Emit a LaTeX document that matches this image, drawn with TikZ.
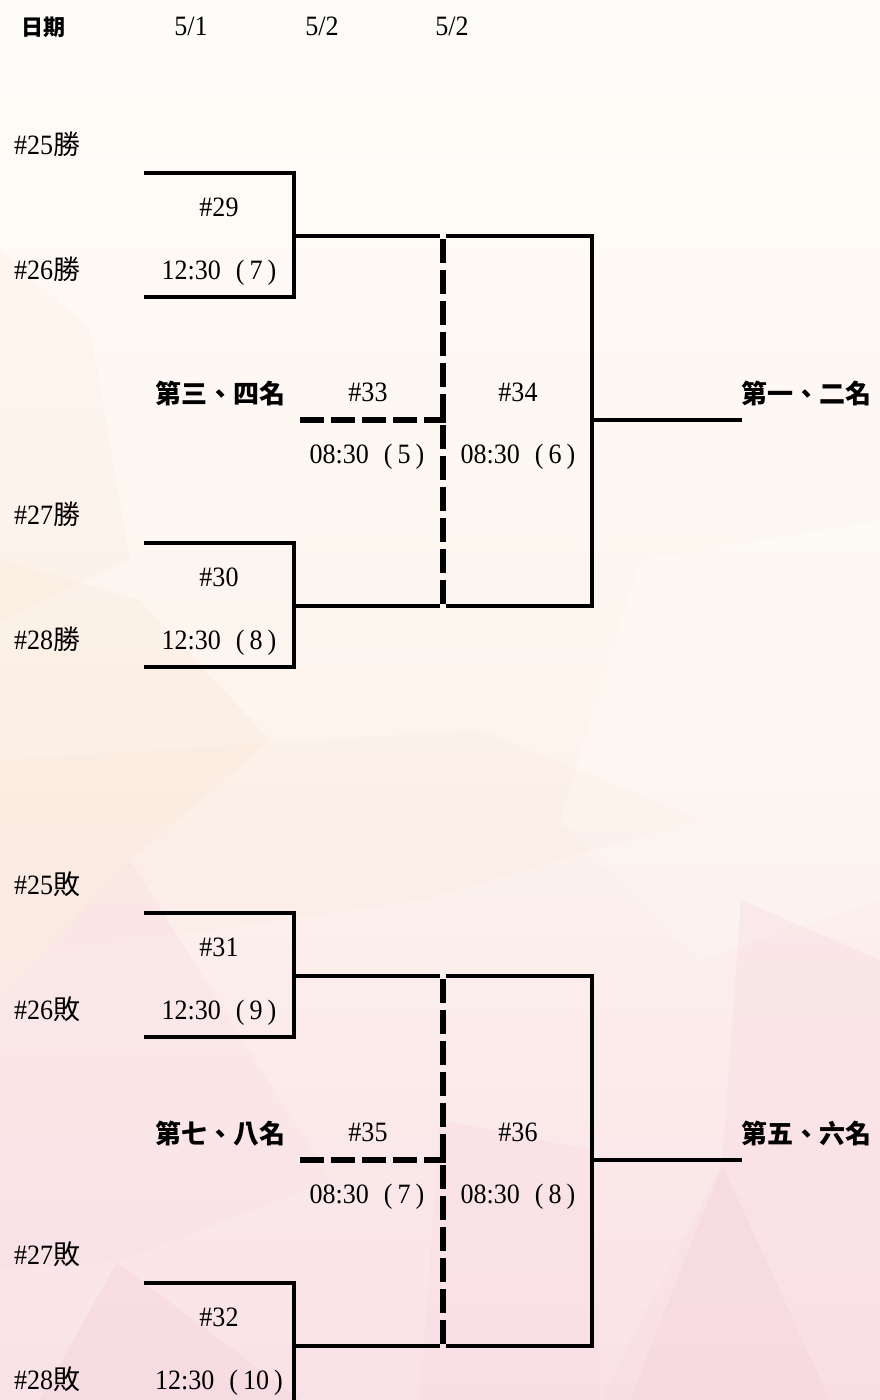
\documentclass[tikz,border=0pt]{standalone}
\usepackage{fontspec}
\setmainfont{Liberation Serif}[FakeStretch=0.93]
\newfontfamily\cjk{Noto Sans CJK TC}
\definecolor{bgA}{HTML}{FEFCF9}
\definecolor{bgB}{HTML}{FDF5EE}
\definecolor{bgC}{HTML}{F9E2E7}
\definecolor{peach}{HTML}{FBE6D6}
\definecolor{pinkA}{HTML}{F8DCE3}
\definecolor{pinkB}{HTML}{F6D2DC}
\newcommand\mtime[2]{#1\hspace{15pt}(\kern5pt#2\kern5pt)}
\begin{document}
\begin{tikzpicture}[x=1pt,y=-1pt,
  ln/.style={line width=3.2pt, line join=miter},
  dl/.style={line width=5.5pt, dash pattern=on 24pt off 7pt},
  lbl/.style={font=\fontsize{28}{28}\selectfont, inner sep=0pt},
  bold/.style={font=\fontsize{26}{26}\selectfont\cjk\bfseries, inner sep=0pt, anchor=base},
  bgp/.style={fill opacity=0.4}]
\useasboundingbox (0,0) rectangle (880,1400);
\begin{scope}
\clip (0,0) rectangle (880,1400);
% background
\fill[top color=bgA, bottom color=bgC, middle color=bgB] (0,0) rectangle (880,1400);
\fill[peach, fill opacity=0.2] (0,250) -- (90,330) -- (130,560) -- (0,620) -- cycle;
\fill[peach, fill opacity=0.3] (0,560) -- (140,600) -- (270,740) -- (130,860) -- (0,1000) -- cycle;
\fill[peach, fill opacity=0.2] (0,760) -- (480,730) -- (700,820) -- (420,900) -- (0,960) -- cycle;
\fill[white, fill opacity=0.25] (640,560) -- (880,520) -- (880,900) -- (700,960) -- (560,820) -- cycle;
\fill[pinkA, fill opacity=0.3] (0,1000) -- (130,860) -- (330,1180) -- (117,1262) -- (0,1270) -- cycle;
\fill[pinkA, bgp] (741,900) -- (880,960) -- (880,1400) -- (600,1400) -- (722,1165) -- cycle;
\fill[pinkA, bgp] (440,1120) -- (590,1150) -- (600,1400) -- (420,1400) -- cycle;
\fill[pinkB, bgp] (117,1262) -- (300,1400) -- (40,1400) -- cycle;
\fill[pinkB, bgp] (722,1165) -- (830,1400) -- (630,1400) -- cycle;

% header
\node[font=\fontsize{22}{22}\selectfont\cjk\bfseries, inner sep=0pt, anchor=base west] (hd) at (21,35) {日期};
\node[lbl, anchor=base] (d1) at (191,35) {5/1};
\node[lbl, anchor=base] (d2) at (322,35) {5/2};
\node[lbl, anchor=base] (d3) at (452,35) {5/2};

% first-round boxes
\foreach \vN/\vY/\vA/\vB/\vT/\vR in {29/173/25/26/7/勝, 30/543/27/28/8/勝, 31/913/25/26/9/敗, 32/1283/27/28/10/敗}{
  \coordinate (m\vN-tl) at (144,\vY);
  \coordinate (m\vN-tr) at (294,\vY);
  \coordinate (m\vN-br) at (294,{\vY+124});
  \coordinate (m\vN-bl) at (144,{\vY+124});
  \coordinate (m\vN-o) at (294,{\vY+63});
  \node[lbl, anchor=base west] (la\vN) at (14,{\vY-28+9}) {\#\vA{\fontsize{27}{27}\selectfont\cjk \vR}};
  \node[lbl, anchor=base] (n\vN) at (219,{\vY+34+9}) {\#\vN};
  \node[lbl, anchor=base west] (lb\vN) at (14,{\vY+97+9}) {\#\vB{\fontsize{27}{27}\selectfont\cjk \vR}};
  \node[lbl, anchor=base] (t\vN) at (219,{\vY+97+9}) {\mtime{12:30}{\vT}};
  \draw[ln] (m\vN-tl) -- (m\vN-tr) -- (m\vN-br) -- (m\vN-bl);
}

% second round
\foreach \vO/\vU/\vL/\vP/\vQ/\vTp/\vTq/\vLN/\vRN in {0/29/30/33/34/5/6/第三、四名/第一、二名, 740/31/32/35/36/7/8/第七、八名/第五、六名}{
  \coordinate (ga\vP) at (440,{236+\vO});
  \coordinate (gb\vP) at (446,{236+\vO});
  \coordinate (rt\vQ) at (592,{236+\vO});
  \coordinate (rb\vQ) at (592,{606+\vO});
  \coordinate (gc\vP) at (440,{606+\vO});
  \coordinate (gd\vP) at (446,{606+\vO});
  \coordinate (ro\vQ) at (592,{420+\vO});
  \coordinate (w\vQ) at (742,{420+\vO});
  \coordinate (ds\vP) at (300,{420+\vO});
  \coordinate (de\vP) at (446,{420+\vO});
  \coordinate (vt\vP) at (443,{239+\vO});
  \coordinate (vb\vP) at (443,{605+\vO});
  \draw[ln] (m\vU-o) -- (ga\vP);
  \draw[ln] (gb\vP) -- (rt\vQ) -- (rb\vQ) -- (gd\vP);
  \draw[ln] (m\vL-o) -- (gc\vP);
  \draw[ln] (ro\vQ) -- (w\vQ);
  \draw[dl] (vt\vP) -- (vb\vP);
  \draw[dl] (ds\vP) -- (de\vP);
  \node[bold] (ln\vP) at (220,{393+10+\vO}) {\vLN};
  \node[bold] (rn\vQ) at (806,{393+10+\vO}) {\vRN};
  \node[lbl, anchor=base] (n\vP) at (368,{392+9+\vO}) {\#\vP};
  \node[lbl, anchor=base] (n\vQ) at (518,{392+9+\vO}) {\#\vQ};
  \node[lbl, anchor=base] (t\vP) at (367,{454+9+\vO}) {\mtime{08:30}{\vTp}};
  \node[lbl, anchor=base] (t\vQ) at (518,{454+9+\vO}) {\mtime{08:30}{\vTq}};
}
\end{scope}
\end{tikzpicture}
\end{document}
